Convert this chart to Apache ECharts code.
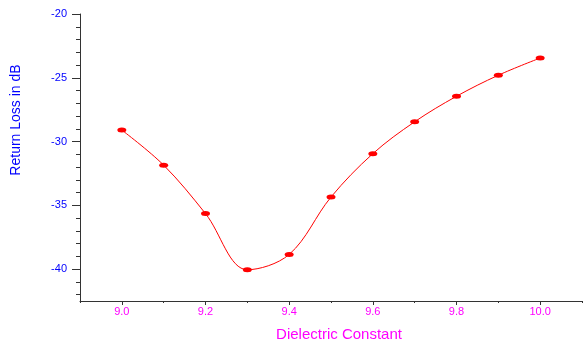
<!DOCTYPE html>
<html>
<head>
<meta charset="utf-8">
<script src="https://cdn.jsdelivr.net/npm/echarts@6/dist/echarts.min.js"></script>
<style>html,body{margin:0;padding:0;background:#fff;}#c{width:583px;height:343px;}</style>
</head>
<body>
<div id="c"></div>
<script>
const dielectric = [9.0, 9.1, 9.2, 9.3, 9.4, 9.5, 9.6, 9.7, 9.8, 9.9, 10.0];
const returnLoss = [-29.1, -31.85, -35.65, -40.05, -38.85, -34.35, -30.95, -28.45, -26.45, -24.8, -23.45];
const xMajorTicks = [9.0, 9.2, 9.4, 9.6, 9.8, 10.0];
const xMinorTicks = [8.9, 9.1, 9.3, 9.5, 9.7, 9.9, 10.1];
const yMajorTicks = [-40, -35, -30, -25, -20];
const yMinorTicks = [-42, -41, -39, -38, -37, -36, -34, -33, -32, -31, -29, -28, -27, -26, -24, -23, -22, -21];
const xTitle = 'Dielectric Constant';
const yTitle = 'Return Loss in dB';

const chart = echarts.init(document.getElementById('c'));
const axisColor = '#333333';
const font = 'Arial, "Liberation Sans", sans-serif';
chart.setOption({
  animation: false,
  grid: {left: 80, top: 14, right: 1, bottom: 42, containLabel: false},
  xAxis: [{
    type: 'value', min: 8.9, max: 10.1,
    axisLine: {lineStyle: {color: axisColor, width: 1}},
    axisTick: {show: true, length: 4, customValues: xMajorTicks, lineStyle: {color: axisColor}},
    axisLabel: {customValues: xMajorTicks, color: '#ff00ff', fontSize: 11, fontFamily: font, margin: 5,
      formatter: v => v.toFixed(1)},
    splitLine: {show: false}
  }, {
    type: 'value', min: 8.9, max: 10.1, position: 'bottom',
    axisLine: {show: false},
    axisTick: {show: true, length: 2, customValues: xMinorTicks, lineStyle: {color: axisColor}},
    axisLabel: {show: false},
    splitLine: {show: false}
  }],
  yAxis: [{
    type: 'value', min: -42.5, max: -20,
    axisLine: {show: true, lineStyle: {color: axisColor, width: 1}},
    axisTick: {show: true, length: 8, customValues: yMajorTicks, lineStyle: {color: axisColor}},
    axisLabel: {customValues: yMajorTicks, color: '#0000ff', fontSize: 11, fontFamily: font, margin: 13},
    splitLine: {show: false}
  }, {
    type: 'value', min: -42.5, max: -20, position: 'left',
    axisLine: {show: false},
    axisTick: {show: true, length: 4, customValues: yMinorTicks, lineStyle: {color: axisColor}},
    axisLabel: {show: false},
    splitLine: {show: false}
  }],
  series: [{
    type: 'line',
    data: dielectric.map((x, i) => [x, returnLoss[i]]),
    smooth: 0.35,
    symbol: 'circle',
    symbolSize: [9, 5],
    itemStyle: {color: '#ff0000'},
    lineStyle: {color: '#ff0000', width: 1}
  }],
  graphic: [{
    type: 'text', x: 339, y: 335,
    style: {text: xTitle, fill: '#ff00ff', font: '15px ' + font, align: 'center', verticalAlign: 'middle'}
  }, {
    type: 'text', x: 16, y: 120, rotation: Math.PI / 2, originX: 0, originY: 0,
    style: {text: yTitle, fill: '#0000ff', font: '14px ' + font, align: 'center', verticalAlign: 'middle'}
  }]
});
</script>
</body>
</html>
